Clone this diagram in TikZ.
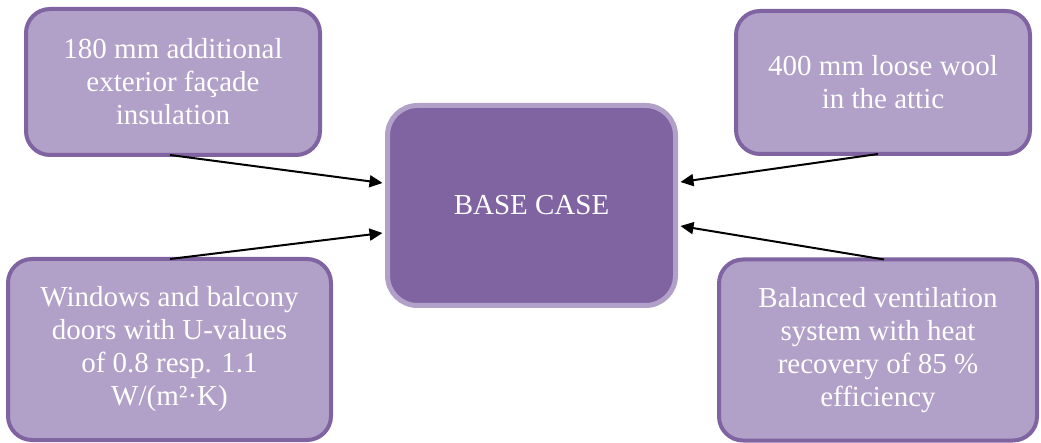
\documentclass[tikz,border=0pt]{standalone}
\usepackage{fontspec}
\setmainfont{Liberation Serif}
\usetikzlibrary{arrows.meta,calc}
\definecolor{lightpurple}{HTML}{B1A0C7}
\definecolor{darkpurple}{HTML}{8064A2}
\tikzset{
  smallbox/.style={draw=darkpurple, fill=lightpurple, line width=4pt, rounded corners=24pt,
    text=white, align=center, inner sep=0pt, font=\fontsize{29}{33}\selectfont},
  mainbox/.style={draw=lightpurple, fill=darkpurple, line width=5pt, rounded corners=30pt,
    text=white, align=center, inner sep=0pt, font=\fontsize{29}{33}\selectfont},
  conn/.style={line width=2pt, -{Triangle[length=13pt,width=12pt]}}
}
\begin{document}
\begin{tikzpicture}[x=1pt,y=-1pt]
\useasboundingbox (0,0) rectangle (1041,443);
\node[smallbox, minimum width=294pt, minimum height=146pt] (tl) at (173,82)
  {180 mm additional\\exterior façade\\insulation};
\node[smallbox, minimum width=294pt, minimum height=143pt] (tr) at (883,82.5)
  {400 mm loose wool\\in the attic};
\node[smallbox, minimum width=323pt, minimum height=181pt] (bl) at (169.5,349.5)
  {Windows and balcony\\doors with U-values\\of 0.8 resp. 1.1\\W/(m²·K)};
\node[smallbox, minimum width=318pt, minimum height=181pt] (br) at (878,350)
  {Balanced ventilation\\system with heat\\recovery of 85 \%\\efficiency};
\node[mainbox, minimum width=288pt, minimum height=200pt] (c) at (531.5,205.5)
  {BASE CASE};
\draw[conn] ($(tl.south)+(-3,-2)$) -- ($(c.west)+(-2.5,-22.5)$);
\draw[conn] ($(bl.north)+(0.5,2)$) -- ($(c.west)+(-2.5,27.5)$);
\draw[conn] ($(tr.south)+(-5,-2)$) -- ($(c.east)+(2.5,-23.5)$);
\draw[conn] ($(br.north)+(6,2)$) -- ($(c.east)+(2.5,20.5)$);
\end{tikzpicture}
\end{document}
